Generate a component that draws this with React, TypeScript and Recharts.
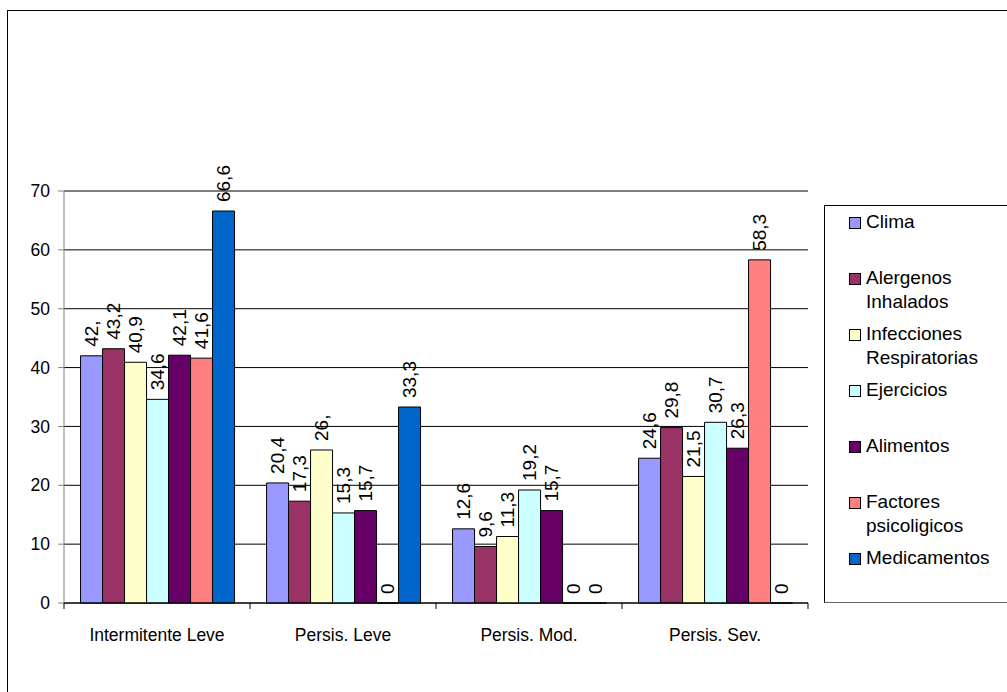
import React from 'react';
import { BarChart, Bar, XAxis, YAxis, CartesianGrid, ReferenceLine, LabelList, Legend } from 'recharts';

const categories = ['Intermitente Leve', 'Persis. Leve', 'Persis. Mod.', 'Persis. Sev.'];
const clima = [42, 20.4, 12.6, 24.6];
const alergenos = [43.2, 17.3, 9.6, 29.8];
const infecciones = [40.9, 26, 11.3, 21.5];
const ejercicios = [34.6, 15.3, 19.2, 30.7];
const alimentos = [42.1, 15.7, 15.7, 26.3];
const factores = [41.6, 0, 0, 58.3];
const medicamentos = [66.6, 33.3, 0, 0];
const yTicks = [0, 10, 20, 30, 40, 50, 60, 70];

const seriesNames = ['Clima', 'Alergenos Inhalados', 'Infecciones Respiratorias', 'Ejercicios', 'Alimentos', 'Factores psicoligicos', 'Medicamentos'];
const seriesValues = [clima, alergenos, infecciones, ejercicios, alimentos, factores, medicamentos];
const seriesColors = ['#9999FF', '#993366', '#FFFFCC', '#CCFFFF', '#660066', '#FF8080', '#0066CC'];
const keys = ['s0', 's1', 's2', 's3', 's4', 's5', 's6'];

const data = categories.map((c, i) => {
  const row: any = { name: c };
  seriesValues.forEach((vals, s) => { row[keys[s]] = vals[i]; });
  return row;
});

const FONT = '"Liberation Sans", Arial, sans-serif';

const fmt = (v: number) => {
  if (v === 0) return '0';
  if (Number.isInteger(v)) return `${v},`;
  return String(v).replace('.', ',');
};

const renderLabel = (props: any) => {
  const { x, y, width, height, value } = props;
  const cx = Number(x) + Number(width) / 2;
  const top = Math.min(Number(y), Number(y) + Number(height || 0));
  const ty = top - 9;
  if (!isFinite(cx) || !isFinite(ty)) return null;
  return (
    <text x={cx} y={ty} transform={`rotate(-90, ${cx}, ${ty})`} textAnchor="start" dominantBaseline="central" fontSize={19} fontFamily={FONT} fill="#000">
      {fmt(Number(value))}
    </text>
  );
};

const XTick = (props: any) => {
  const { x, y, payload, index } = props;
  const half = payload && typeof payload.offset === 'number' && payload.offset > 0 ? payload.offset : 93;
  const last = index === categories.length - 1;
  return (
    <g>
      <line x1={x - half} x2={x - half} y1={y} y2={y + 6} stroke="#000" />
      {last && <line x1={x + half} x2={x + half} y1={y} y2={y + 6} stroke="#000" />}
      <text x={x} y={y + 32} textAnchor="middle" dominantBaseline="central" fontSize={17.5} fontFamily={FONT} fill="#000">
        {payload.value}
      </text>
    </g>
  );
};

const renderLegend = () => (
  <div style={{ position: 'relative', width: 200, height: 396, border: '1px solid #000', borderBottomColor: '#666', fontFamily: FONT, fontSize: 19, color: '#000', boxSizing: 'content-box' }}>
    {seriesNames.map((n, i) => (
      <div key={n} style={{ position: 'absolute', left: 0, top: 4 + 56 * i, width: 200 }}>
        <div style={{ position: 'absolute', left: 24, top: 7, width: 10, height: 10, background: seriesColors[i], border: '1px solid #000' }} />
        <div style={{ position: 'absolute', left: 41, top: 0, width: 138, lineHeight: '24px', whiteSpace: 'normal' }}>{n}</div>
      </div>
    ))}
  </div>
);

export default function App() {
  return (
    <div style={{ position: 'absolute', left: 0, top: 0, width: 1007, height: 692, overflow: 'hidden', background: '#fff' }}>
      <div style={{ position: 'absolute', left: 7, top: 10, width: 1020, height: 720, border: '1px solid #000' }} />
      <div style={{ position: 'absolute', left: 0, top: 0 }}>
        <BarChart width={1007} height={692} data={data} margin={{ top: 191, right: 199, bottom: 29, left: 4 }} barCategoryGap="8.9%" barGap={0}>
          <CartesianGrid yAxisId="left" vertical={false} stroke="#000" strokeOpacity={1} />
          <XAxis dataKey="name" height={60} axisLine={{ stroke: '#000' }} tickLine={false} tickSize={0} tickMargin={0} tick={<XTick />} interval={0} />
          <YAxis yAxisId="left" width={60} domain={[0, 70]} ticks={yTicks} interval={0} axisLine={{ stroke: '#808080' }} tickLine={{ stroke: '#808080' }} tickSize={6} tickMargin={8} tick={{ fill: '#000', fontSize: 17.5, fontFamily: FONT }} />
          <YAxis yAxisId="right" orientation="right" width={0} domain={[0, 70]} tick={false} tickLine={false} axisLine={{ stroke: '#808080' }} />
          <ReferenceLine yAxisId="left" y={70} stroke="#808080" />
          {keys.map((k, i) => (
            <Bar key={k} yAxisId="left" dataKey={k} name={seriesNames[i]} fill={seriesColors[i]} stroke="#000" strokeWidth={1} minPointSize={0.01} isAnimationActive={false}>
              <LabelList dataKey={k} content={renderLabel} />
            </Bar>
          ))}
          <Legend layout="horizontal" verticalAlign="middle" align="center" content={renderLegend} wrapperStyle={{ position: 'absolute', left: 824, top: 205, width: 202, height: 398 }} />
        </BarChart>
      </div>
    </div>
  );
}
